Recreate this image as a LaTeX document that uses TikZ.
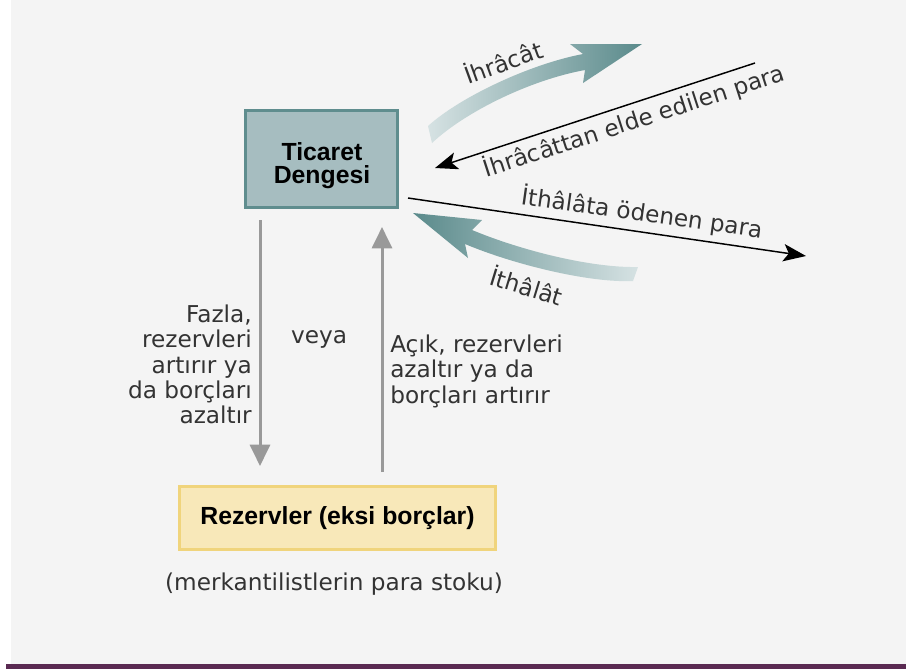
\documentclass[tikz,border=0pt]{standalone}
\usepackage{fontspec}
\setmainfont{DejaVu Sans}
\newfontfamily\lbfont{Liberation Sans}
\usetikzlibrary{arrows.meta}
\definecolor{bggray}{HTML}{F4F4F4}
\definecolor{barpurple}{HTML}{5A2A52}
\definecolor{tdfill}{HTML}{A6BDC0}
\definecolor{tdline}{HTML}{5F8D8E}
\definecolor{rzfill}{HTML}{F8E8B9}
\definecolor{rzline}{HTML}{F0D47C}
\definecolor{txtgray}{HTML}{333333}
\definecolor{arrgray}{HTML}{999999}
\definecolor{tealdark}{HTML}{5A8A8B}
\definecolor{teallight}{HTML}{D6E2E3}
\begin{document}
\begin{tikzpicture}[x=0.75pt,y=-0.75pt,
  every node/.style={inner sep=0pt},
  txt/.style={font=\fontsize{17.4}{19}\selectfont, text=txtgray},
  boxtxt/.style={font=\lbfont\bfseries\fontsize{18.6}{17}\selectfont, text=black},
  grayarrow/.style={draw=arrgray, line width=2.25pt, -{Triangle[length=16pt,width=15pt]}},
  blackarrow/.style={draw=black, line width=1.1pt, -{Stealth[length=17pt,width=13pt,inset=4pt]}},
  bigarrowR/.style={left color=teallight, right color=tealdark, draw=none},
  bigarrowL/.style={left color=tealdark, right color=teallight, draw=none}]
\useasboundingbox (0,0) rectangle (906,669);
\fill[white] (0,0) rectangle (906,669);
\fill[bggray] (11,0) rectangle (906,664);
\fill[barpurple] (6,664) rectangle (906,669);

% boxes
\node[draw=tdline, fill=tdfill, line width=2.25pt, minimum width=114pt, minimum height=72.75pt] (td) at (321.5,159) {};
\node[boxtxt, align=center] (tdtext) at (322,165.5) {Ticaret\\Dengesi};
\node[draw=rzline, fill=rzfill, line width=2.25pt, minimum width=237pt, minimum height=47.25pt, boxtxt] (rz) at (337.5,518) {Rezervler (eksi borçlar)};

% gray vertical arrows
\coordinate (dtop) at (260,220);
\coordinate (dbot) at (260,466);
\draw[grayarrow] (dtop) -- (dbot);
\coordinate (ubot) at (382,472);
\coordinate (utop) at (382,227);
\draw[grayarrow] (ubot) -- (utop);

% black money arrows
\coordinate (ea) at (755,63);
\coordinate (eb) at (435,168);
\draw[blackarrow] (ea) -- (eb);
\coordinate (ia) at (408,198);
\coordinate (ib) at (806,256);
\draw[blackarrow] (ia) -- (ib);

% shaded curved arrows
\shade[bigarrowR] (428,126) .. controls (460,97) and (530,64) .. (583,54) -- (570,44) -- (642,44) -- (583,83) -- (585,70) .. controls (530,80) and (465,112) .. (432,143) -- cycle;
\shade[bigarrowL] (413,213) -- (482,220) -- (472,230) .. controls (520,250) and (590,268) .. (638,267) -- (633,281) .. controls (590,283) and (515,265) .. (465,244) -- (468,258) -- cycle;

% texts
\node[txt, rotate=20] (ihr) at (503,61) {İhrâcât};
\node[txt, rotate=-17] (ith) at (527,285) {İthâlât};
\node[txt, rotate=18] (ihrpara) at (634,121) {İhrâcâttan elde edilen para};
\node[txt, rotate=-8] (ithpara) at (642,213) {İthâlâta ödenen para};
\node[txt, align=right, anchor=north east] (fazla) at (252,304.5) {Fazla,\\rezervleri\\artırır ya\\da borçları\\azaltır};
\node[txt, anchor=base] (veya) at (319,343) {veya};
\node[txt, align=left, anchor=north west] (acik) at (390,334.5) {Açık, rezervleri\\azaltır ya da\\borçları artırır};
\node[txt] (merk) at (334,584) {(merkantilistlerin para stoku)};
\end{tikzpicture}
\end{document}
